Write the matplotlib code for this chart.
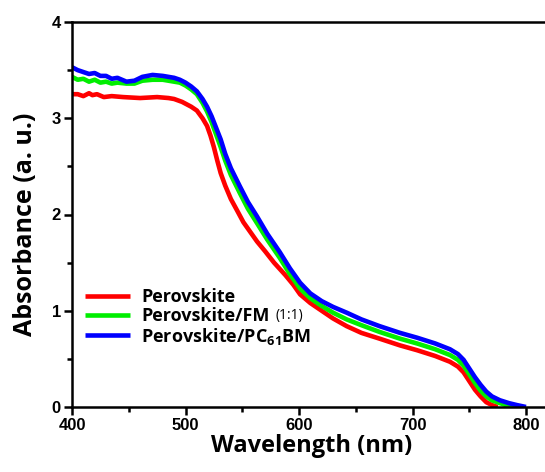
"""Absorbance spectra of perovskite films."""

import matplotlib
matplotlib.use("Agg")
import matplotlib.pyplot as plt
from matplotlib.ticker import MultipleLocator

# wavelength (nm) / absorbance (a. u.)
wl_red = [400, 405, 410, 415, 418, 422, 428, 435, 445, 460, 475, 485, 490,
          497, 505, 510, 515, 519, 522, 525, 528, 531, 535, 540, 546, 551,
          557, 563, 570, 578, 588, 595, 601, 610, 620, 630, 642, 655, 671,
          689, 704, 720, 733, 740, 745, 750, 755, 760, 765, 770, 775]
abs_red = [3.25, 3.25, 3.23, 3.26, 3.24, 3.25, 3.22, 3.23, 3.22, 3.21, 3.22,
           3.21, 3.20, 3.17, 3.12, 3.08, 3.00, 2.92, 2.82, 2.70, 2.56, 2.43,
           2.30, 2.16, 2.03, 1.92, 1.82, 1.72, 1.62, 1.50, 1.37, 1.27, 1.17,
           1.08, 1.00, 0.92, 0.84, 0.77, 0.71, 0.64, 0.59, 0.53, 0.47, 0.42,
           0.36, 0.27, 0.18, 0.11, 0.05, 0.02, 0.0]

wl_green = [400, 405, 410, 415, 420, 425, 430, 435, 440, 448, 455, 462, 471,
            480, 490, 495, 500, 505, 510, 515, 519, 523, 527, 531, 535, 540,
            548, 555, 563, 572, 583, 592, 601, 610, 620, 630, 642, 655, 671,
            689, 704, 720, 733, 740, 745, 750, 755, 760, 765, 770, 777, 785,
            790]
abs_green = [3.43, 3.40, 3.41, 3.38, 3.40, 3.37, 3.38, 3.36, 3.37, 3.36, 3.36,
             3.39, 3.40, 3.40, 3.38, 3.37, 3.34, 3.30, 3.25, 3.16, 3.07, 2.96,
             2.83, 2.70, 2.56, 2.41, 2.22, 2.06, 1.91, 1.74, 1.55, 1.38, 1.23,
             1.13, 1.05, 0.98, 0.91, 0.85, 0.78, 0.71, 0.66, 0.60, 0.54, 0.49,
             0.43, 0.34, 0.25, 0.17, 0.11, 0.07, 0.04, 0.01, 0.0]

wl_blue = [400, 405, 410, 415, 420, 425, 430, 435, 440, 448, 455, 462, 471,
           480, 490, 495, 500, 505, 510, 515, 519, 523, 527, 531, 535, 540,
           548, 555, 563, 572, 583, 592, 601, 610, 620, 630, 642, 655, 671,
           689, 704, 720, 733, 740, 745, 750, 755, 760, 765, 770, 777, 785,
           792, 800]
abs_blue = [3.53, 3.50, 3.48, 3.46, 3.47, 3.44, 3.44, 3.41, 3.42, 3.38, 3.39,
            3.43, 3.45, 3.44, 3.42, 3.40, 3.37, 3.33, 3.28, 3.20, 3.12, 3.02,
            2.90, 2.78, 2.63, 2.48, 2.29, 2.13, 1.98, 1.80, 1.61, 1.44, 1.29,
            1.18, 1.10, 1.04, 0.98, 0.91, 0.84, 0.77, 0.72, 0.66, 0.60, 0.55,
            0.49, 0.40, 0.31, 0.23, 0.16, 0.11, 0.07, 0.04, 0.02, 0.0]

labels = ["Perovskite", "Perovskite/FM", r"Perovskite/PC$_{\mathbf{61}}$BM"]
colors = ["#ff0000", "#00ee00", "#0000ff"]

plt.rcParams["font.family"] = ["Liberation Sans", "DejaVu Sans"]
plt.rcParams["mathtext.fontset"] = "custom"
plt.rcParams["mathtext.bf"] = "Open Sans:bold"

fig = plt.figure(figsize=(5.45, 4.72), dpi=100)
# axes runs past the right edge, as in the cropped original
ax = fig.add_axes([72 / 545, 65 / 472, 488 / 545, 385 / 472])

for x, y, c, lab in zip([wl_red, wl_green, wl_blue],
                        [abs_red, abs_green, abs_blue], colors, labels):
    ax.plot(x, y, color=c, lw=3.3, label=lab, solid_capstyle="butt",
            solid_joinstyle="round")

ax.set_xlim(400, 400 + 488 / 1.135)
ax.set_ylim(0, 4)
ax.xaxis.set_major_locator(MultipleLocator(100))
ax.xaxis.set_minor_locator(MultipleLocator(50))
ax.yaxis.set_major_locator(MultipleLocator(1))
ax.yaxis.set_minor_locator(MultipleLocator(0.5))
ax.spines["right"].set_visible(False)
for s in ax.spines.values():
    s.set_linewidth(1.8)
ax.tick_params(which="both", direction="out", width=1.8)
ax.tick_params(which="major", length=6, labelsize=12, pad=2)
ax.tick_params(which="minor", length=3.5)
ax.tick_params(axis="x", top=False)
for t in ax.get_xticklabels() + ax.get_yticklabels():
    t.set_fontweight("bold")

ax.set_xlabel("Wavelength (nm)", fontsize=17, fontweight="bold",
              family="Open Sans")
ax.set_ylabel("Absorbance (a. u.)", fontsize=18, fontweight="bold",
              family="Open Sans")
ax.xaxis.set_label_coords((312 - 72) / 488, (407 - 434) / 385)
ax.yaxis.set_label_coords((38 - 72) / 488, (407 - 224) / 385)

leg = ax.legend(loc="upper left", bbox_to_anchor=(85 / 545, 1 - 288 / 472),
                bbox_transform=fig.transFigure, frameon=False, borderpad=0,
                borderaxespad=0, handlelength=2.5, handletextpad=0.6,
                labelspacing=0.05,
                prop={"family": "Open Sans", "weight": "bold", "size": 13})

fig.canvas.draw()
bb = leg.get_texts()[1].get_window_extent()
fig.text(bb.x1 / fig.dpi / 5.45 + 0.012, (bb.y0 + bb.y1) / 2 / fig.dpi / 4.72,
         "(1:1)", fontsize=10, va="center", family="Open Sans")

fig.savefig("out.png", dpi=100)
